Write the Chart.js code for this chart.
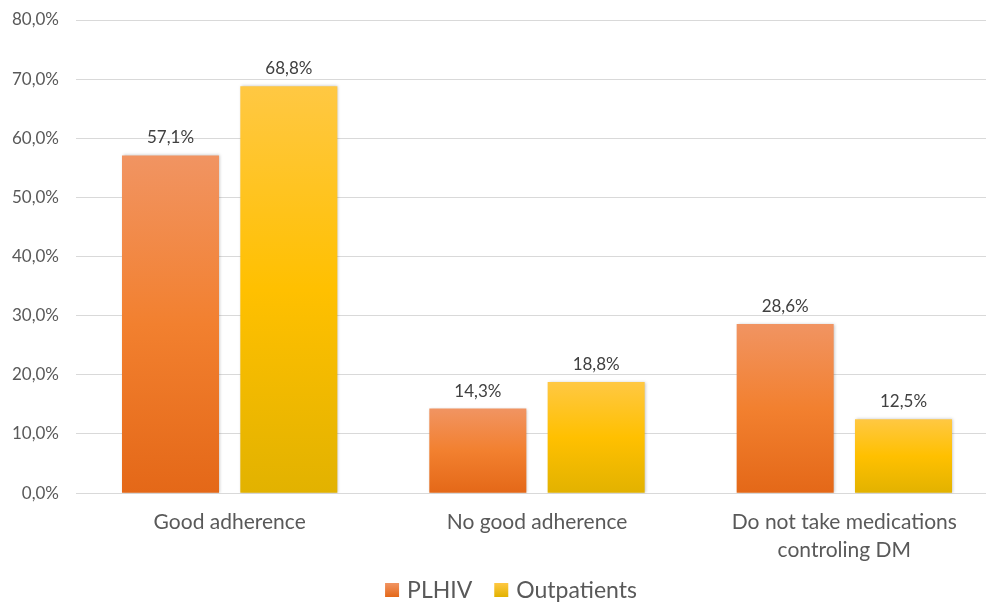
<!DOCTYPE html>
<html>
<head>
<meta charset="utf-8">
<script src="https://cdn.jsdelivr.net/npm/chart.js@4/dist/chart.umd.min.js"></script>
<style>
  html, body { margin: 0; padding: 0; background: #fff; overflow: hidden; }
  #wrap { width: 986px; height: 603px; overflow: hidden; }
</style>
</head>
<body>
<div id="wrap"><canvas id="mycanvas" width="998" height="603"></canvas></div>
<script>
var categories = ['Good adherence', 'No good adherence', ['Do not take medications', 'controling DM']];
var plhiv = [57.1, 14.3, 28.6];
var outpatients = [68.8, 18.8, 12.5];
var seriesNames = ['PLHIV', 'Outpatients'];

var FONT = 'Lato, "Open Sans", sans-serif';

// colour stops top -> middle -> bottom for each series
var orangeStops = ['#F19462', '#F2802F', '#E46818'];
var yellowStops = ['#FFC843', '#FFC000', '#E2B200'];

function barGradient(stops) {
  return function(ctx) {
    var chart = ctx.chart;
    var y = chart.scales.y;
    if (!y || ctx.dataIndex === undefined) return stops[1];
    var v = ctx.dataset.data[ctx.dataIndex];
    var top = y.getPixelForValue(v);
    var bottom = y.getPixelForValue(0);
    if (!isFinite(top) || !isFinite(bottom) || bottom - top < 1) return stops[1];
    var g = chart.ctx.createLinearGradient(0, top, 0, bottom);
    g.addColorStop(0, stops[0]);
    g.addColorStop(0.5, stops[1]);
    g.addColorStop(1, stops[2]);
    return g;
  };
}

function fmt(v) {
  return v.toFixed(1).replace('.', ',') + '%';
}

// soft shadow behind bars
var barShadow = {
  id: 'barShadow',
  beforeDatasetsDraw: function(chart) {
    var c = chart.ctx;
    c.save();
    c.shadowColor = 'rgba(0,0,0,0.25)';
    c.shadowBlur = 3;
    c.shadowOffsetX = 1;
    c.shadowOffsetY = 0;
  },
  afterDatasetsDraw: function(chart) {
    chart.ctx.restore();
  }
};

// value labels above the bars
var valueLabels = {
  id: 'valueLabels',
  afterDatasetsDraw: function(chart) {
    var c = chart.ctx;
    c.save();
    c.font = '17px ' + FONT;
    c.fillStyle = '#404040';
    c.textAlign = 'center';
    c.textBaseline = 'bottom';
    chart.data.datasets.forEach(function(ds, i) {
      chart.getDatasetMeta(i).data.forEach(function(bar, j) {
        c.fillText(fmt(ds.data[j]), bar.x, bar.y - 9);
      });
    });
    c.restore();
  }
};

// legend row at the bottom
var bottomLegend = {
  id: 'bottomLegend',
  afterDraw: function(chart) {
    var c = chart.ctx;
    var fills = [orangeStops, yellowStops];
    var box = 14, gapText = 8, gapItem = 22, cy = 590, cx = 511;
    c.save();
    c.font = '23px ' + FONT;
    c.textBaseline = 'middle';
    var widths = chart.data.datasets.map(function(ds) { return c.measureText(ds.label).width; });
    var total = 0;
    widths.forEach(function(w, i) { total += box + gapText + w + (i ? gapItem : 0); });
    var x = cx - total / 2;
    chart.data.datasets.forEach(function(ds, i) {
      var g = c.createLinearGradient(0, cy - box / 2, 0, cy + box / 2);
      g.addColorStop(0, fills[i][0]);
      g.addColorStop(1, fills[i][2]);
      c.fillStyle = g;
      c.fillRect(x, cy - box / 2, box, box);
      x += box + gapText;
      c.fillStyle = '#595959';
      c.fillText(ds.label, x, cy + 1);
      x += widths[i] + gapItem;
    });
    c.restore();
  }
};

var chartdata = {
  labels: categories,
  datasets: [
    {
      label: seriesNames[0],
      data: plhiv,
      backgroundColor: barGradient(orangeStops),
      barPercentage: 0.82,
      categoryPercentage: 0.77
    },
    {
      label: seriesNames[1],
      data: outpatients,
      backgroundColor: barGradient(yellowStops),
      barPercentage: 0.82,
      categoryPercentage: 0.77
    }
  ]
};

new Chart(document.getElementById('mycanvas'), {
  type: 'bar',
  data: chartdata,
  plugins: [barShadow, valueLabels, bottomLegend],
  options: {
    responsive: false,
    animation: false,
    layout: { padding: { top: 20, right: 0, left: 0, bottom: 24 } },
    scales: {
      y: {
        min: 0,
        max: 80,
        ticks: {
          stepSize: 10,
          callback: function(v) { return fmt(v); },
          color: '#595959',
          font: { family: FONT, size: 17 },
          padding: 17
        },
        grid: { color: '#d9d9d9', drawTicks: false },
        border: { display: false },
        afterFit: function(scale) {
          scale.width = 76;
          scale.paddingTop = 0;
        }
      },
      x: {
        ticks: {
          color: '#595959',
          font: { family: FONT, size: 21, lineHeight: 1.33 },
          padding: 15,
          maxRotation: 0
        },
        grid: { display: false, drawTicks: false },
        border: { color: '#d9d9d9' }
      }
    },
    plugins: {
      legend: { display: false },
      tooltip: { enabled: false }
    }
  }
});
</script>
</body>
</html>
